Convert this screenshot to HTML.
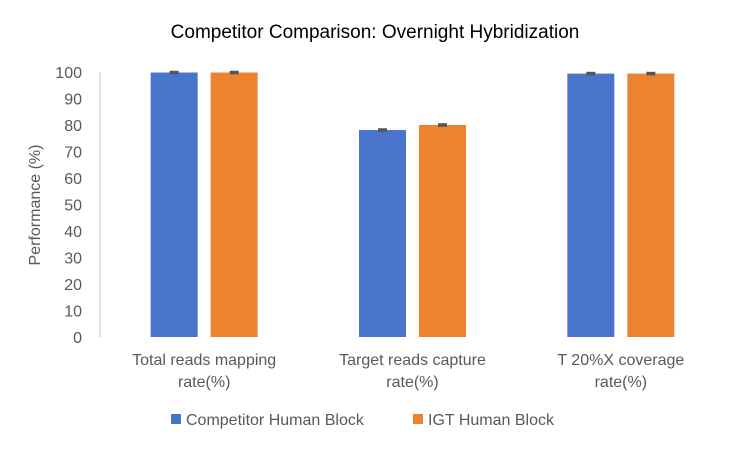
<!DOCTYPE html>
<html><head><meta charset="utf-8"><style>
body{margin:0;background:#fff;font-family:"Liberation Sans",sans-serif}
</style></head><body>
<svg width="750" height="450" xmlns="http://www.w3.org/2000/svg">
<rect width="750" height="450" fill="#fff"/>
<text x="375" y="38" text-anchor="middle" font-size="19" fill="#000">Competitor Comparison: Overnight Hybridization</text>
<text transform="translate(40,205) rotate(-90)" text-anchor="middle" font-size="16" fill="#595959">Performance (%)</text>
<g id="yaxis"></g>
<line x1="100" y1="72" x2="100" y2="337" stroke="#d9d9d9" stroke-width="1.5"/>
<g id="bars"></g>
<g id="xlabels"></g>
<g>
<g><rect x="171" y="414" width="10" height="10" fill="#4874cb"/><text x="186" y="425" font-size="16" fill="#595959">Competitor Human Block</text></g>
<g><rect x="413" y="414" width="10" height="10" fill="#ee822f"/><text x="428" y="425" font-size="16" fill="#595959">IGT Human Block</text></g>
</g>
</svg>
<script>
const categories=[["Total reads mapping","rate(%)"],["Target reads capture","rate(%)"],["T 20%X coverage","rate(%)"]];
const competitor=[99.8,78.1,99.4];
const igt=[99.8,80.0,99.4];
const errComp=[0.3,0.3,0.3];
const errIgt=[0.3,0.3,0.3];
const yTicks=[0,10,20,30,40,50,60,70,80,90,100];
const NS="http://www.w3.org/2000/svg";
const x0=100,x1=725,yb=337,yt=72;
const y=v=>yb-(v/100)*(yb-yt);
const band=(x1-x0)/categories.length;
const cx=i=>x0+band*(i+0.5);
function mk(t,a,p){const e=document.createElementNS(NS,t);for(const k in a)e.setAttribute(k,a[k]);p.appendChild(e);return e;}
const ya=document.getElementById('yaxis');
yTicks.forEach(v=>{const t=mk('text',{x:82,y:y(v)+6,'text-anchor':'end','font-size':16,fill:'#595959'},ya);


t.textContent=v;});
const bg=document.getElementById('bars');
const series=[[competitor,errComp,'#4874cb',-30,'competitor'],[igt,errIgt,'#ee822f',30,'igt']];
series.forEach(([vals,errs,col,off,nm])=>{vals.forEach((v,i)=>{
const bx=cx(i)+off-23.5;
const r=mk('rect',{x:bx,y:y(v),width:47,height:yb-y(v),fill:col},bg);


const e=mk('rect',{x:cx(i)+off-4.5,y:y(v+errs[i])-1,width:9,height:Math.max(2,y(v-errs[i])-y(v+errs[i])+2),fill:'#555'},bg);


});});
const xl=document.getElementById('xlabels');
categories.forEach((c,i)=>{c.forEach((ln,j)=>{const t=mk('text',{x:cx(i),y:365+j*22,'text-anchor':'middle','font-size':16,fill:'#595959'},xl);


t.textContent=ln;});});
</script>
</body></html>
